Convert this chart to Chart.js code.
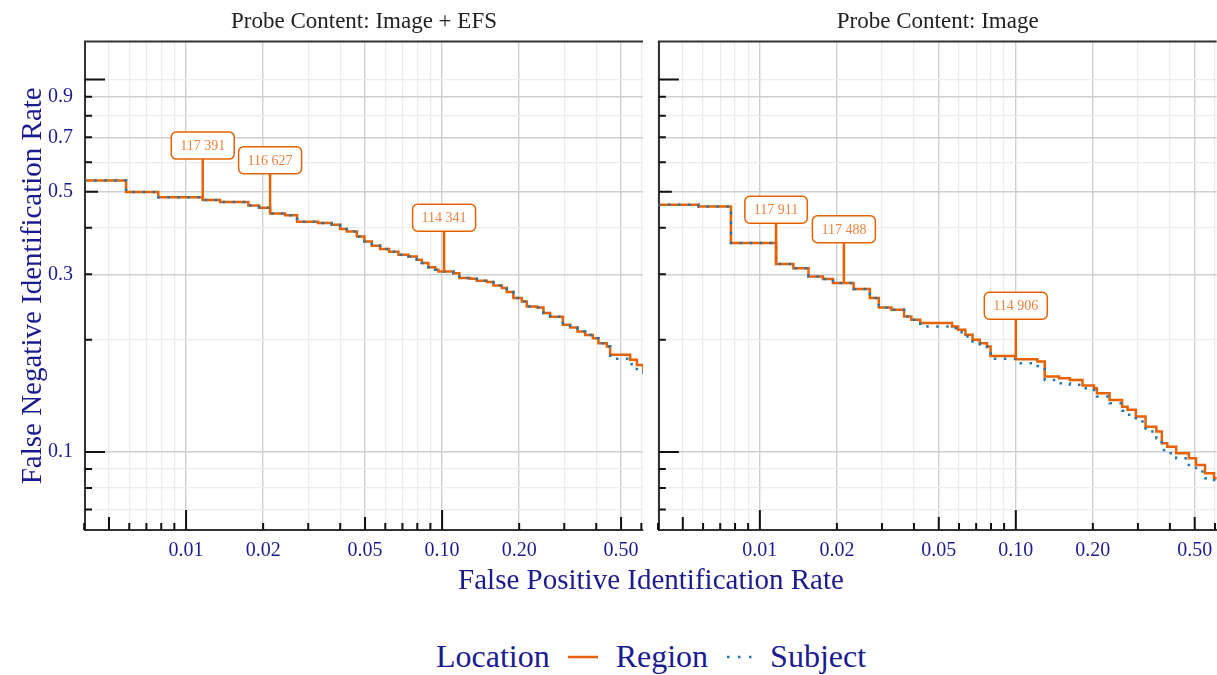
<!DOCTYPE html>
<html>
<head>
<meta charset="utf-8">
<script src="https://cdn.jsdelivr.net/npm/chart.js@4.4.1/dist/chart.umd.min.js"></script>
<style>
  body { margin: 0; width: 1217px; height: 675px; background: #fff; overflow: hidden;
         font-family: "Liberation Serif", serif; }
  .panel { position: absolute; top: 0; height: 570px; }
  #leftPanel { left: 0; width: 651px; }
  #rightPanel { left: 649px; width: 575px; }
  #xTitle { position: absolute; left: 85px; width: 1132px; top: 563px; text-align: center;
            font-size: 29px; color: #1b1b8f; white-space: nowrap; }
  #legend { position: absolute; left: 85px; width: 1132px; top: 638px; display: flex;
            justify-content: center; align-items: center; font-size: 32px; color: #1b1b8f; }
  #legend .key { margin: 0 18px; }
</style>
</head>
<body>
<div class="panel" id="leftPanel"><canvas id="efsChart"></canvas></div>
<div class="panel" id="rightPanel"><canvas id="imgChart"></canvas></div>
<div id="xTitle">False Positive Identification Rate</div>
<div id="legend">
  <span>Location</span>
  <svg class="key" width="30" height="8"><line x1="0" y1="4" x2="30" y2="4" stroke="#e66100" stroke-width="2.5"/></svg>
  <span>Region</span>
  <svg class="key" width="26" height="8"><line x1="1" y1="4" x2="26" y2="4" stroke="#1f78b4" stroke-width="2.5" stroke-dasharray="2.5 8.5"/></svg>
  <span>Subject</span>
</div>
<script>
// Probe Content: Image + EFS
const efsFpir = [0.004, 0.00583, 0.00779, 0.01162, 0.01358, 0.01751, 0.01928, 0.02129, 0.02436, 0.02714,
  0.03279, 0.03708, 0.03997, 0.04245, 0.04644, 0.04973, 0.05314, 0.05726, 0.0621, 0.06751,
  0.07386, 0.07964, 0.08329, 0.08841, 0.09392, 0.09672, 0.1107, 0.1168, 0.1286, 0.1366,
  0.1495, 0.1586, 0.1711, 0.1789, 0.1899, 0.2048, 0.2142, 0.2344, 0.2487, 0.2642,
  0.2962, 0.3162, 0.3378, 0.362, 0.3879, 0.4079, 0.44, 0.4533, 0.5426, 0.5763, 0.6113];
const efsRegion = [0.536, 0.499, 0.483, 0.475, 0.469, 0.459, 0.453, 0.437, 0.432, 0.415,
  0.412, 0.4075, 0.397, 0.391, 0.379, 0.3675, 0.358, 0.3506, 0.3447, 0.3385,
  0.335, 0.328, 0.3215, 0.3135, 0.3084, 0.3052, 0.3021, 0.293, 0.2917, 0.2881,
  0.2858, 0.2799, 0.2754, 0.2687, 0.2589, 0.2535, 0.2458, 0.2443, 0.236, 0.2306,
  0.2195, 0.2158, 0.2105, 0.2062, 0.202, 0.1959, 0.1918, 0.1823, 0.1767, 0.1713, 0.1643];
const efsSubject = [0.536, 0.499, 0.483, 0.475, 0.469, 0.459, 0.453, 0.437, 0.432, 0.415,
  0.412, 0.4075, 0.397, 0.391, 0.379, 0.3675, 0.358, 0.3506, 0.3447, 0.3385,
  0.335, 0.328, 0.3215, 0.3135, 0.3084, 0.3052, 0.3021, 0.293, 0.2917, 0.2881,
  0.2858, 0.2799, 0.2754, 0.2687, 0.2589, 0.2535, 0.2458, 0.2443, 0.236, 0.2306,
  0.2185, 0.2158, 0.2105, 0.2062, 0.202, 0.1959, 0.1918, 0.178, 0.172, 0.167, 0.161];
const efsNoteFpir = [0.01162, 0.02129, 0.1018];
const efsNoteFnir = [0.475, 0.437, 0.3052];
const efsNoteLabelFnir = [0.665, 0.6075, 0.4257];
const efsNoteText = ['117 391', '116 627', '114 341'];

// Probe Content: Image
const imgFpir = [0.004, 0.00576, 0.00771, 0.01157, 0.01352, 0.01549, 0.01764, 0.01931, 0.02324, 0.0269,
  0.02916, 0.03266, 0.03659, 0.03904, 0.04233, 0.05633, 0.05951, 0.0635, 0.06776, 0.0723,
  0.07715, 0.0797, 0.1, 0.1215, 0.1297, 0.1476, 0.1627, 0.1822, 0.2021, 0.2074,
  0.2323, 0.2602, 0.2733, 0.2944, 0.3213, 0.3541, 0.3719, 0.3905, 0.4233, 0.4744,
  0.5059, 0.5486, 0.5951, 0.621];
const imgRegion = [0.4613, 0.4565, 0.364, 0.3195, 0.3116, 0.296, 0.2912, 0.2841, 0.2737, 0.2589,
  0.2443, 0.2408, 0.2311, 0.2263, 0.2218, 0.2172, 0.2128, 0.2063, 0.2, 0.1959,
  0.1918, 0.1811, 0.1775, 0.1749, 0.1594, 0.1578, 0.1561, 0.1508, 0.1483, 0.1438,
  0.1379, 0.1323, 0.1297, 0.1244, 0.1169, 0.1134, 0.1055, 0.1033, 0.0992, 0.0961,
  0.0923, 0.0877, 0.085, 0.0833];
const imgSubject = [0.4613, 0.4565, 0.364, 0.3195, 0.3116, 0.296, 0.2912, 0.2841, 0.2737, 0.2589,
  0.2443, 0.2408, 0.2311, 0.2263, 0.2172, 0.215, 0.2095, 0.2042, 0.1959, 0.1918,
  0.188, 0.1778, 0.1731, 0.1701, 0.1561, 0.153, 0.1515, 0.1483, 0.1438, 0.1408,
  0.1351, 0.1289, 0.1258, 0.1207, 0.1134, 0.1088, 0.1012, 0.0992, 0.0961, 0.0913,
  0.0886, 0.085, 0.0815, 0.08];
const imgNoteFpir = [0.01157, 0.0213, 0.1];
const imgNoteFnir = [0.3195, 0.2841, 0.1775];
const imgNoteLabelFnir = [0.4473, 0.3963, 0.2469];
const imgNoteText = ['117 911', '117 488', '114 906'];

// axes
const xTickMarks = [0.004, 0.005, 0.006, 0.007, 0.008, 0.009, 0.01, 0.02, 0.03, 0.04, 0.05, 0.06, 0.07, 0.08, 0.09,
  0.1, 0.2, 0.3, 0.4, 0.5, 0.6];
const xLabelValues = [0.01, 0.02, 0.05, 0.1, 0.2, 0.5];
const xLabels = ['0.01', '0.02', '0.05', '0.10', '0.20', '0.50'];
const yTickMarks = [0.07, 0.08, 0.09, 0.1, 0.2, 0.3, 0.4, 0.5, 0.6, 0.7, 0.8, 0.9, 1.0];
const yLabelValues = [0.1, 0.3, 0.5, 0.7, 0.9];
const yLabels = ['0.1', '0.3', '0.5', '0.7', '0.9'];

const X_MIN = 0.00403, X_MAX = 0.609, Y_MIN = 0.0617, Y_MAX = 1.265;
const ORANGE = '#e66100', BLUE = '#1f78b4', NAVY = '#1b1b8f';
const FONT = '"Liberation Serif", serif';

Chart.defaults.font.family = FONT;

function same(a, b) { return Math.abs(Math.log10(a / b)) < 1e-6; }
function labelFor(v, values, labels) {
  const i = values.findIndex(m => same(m, v));
  return i < 0 ? '' : labels[i];
}
function tickLen(v) {
  const l = Math.log10(v);
  if (Math.abs(l - Math.round(l)) < 1e-6) return 20;
  const l5 = Math.log10(v / 5);
  if (Math.abs(l5 - Math.round(l5)) < 1e-6) return 13;
  return 7;
}

// inward ticks, top frame line and the boxed annotations
const panelExtras = {
  id: 'panelExtras',
  afterDatasetsDraw(chart, args, opts) {
    const {ctx, scales: {x, y}} = chart;
    ctx.save();
    opts.notes.forEach(n => {
      const px = x.getPixelForValue(n.x);
      const py = y.getPixelForValue(n.y);
      const ly = y.getPixelForValue(n.labelY);
      ctx.font = '14px ' + FONT;
      const w = ctx.measureText(n.text).width + 18, h = 27;
      ctx.strokeStyle = ORANGE;
      ctx.lineWidth = 2.5;
      ctx.beginPath();
      ctx.moveTo(px, ly + h / 2);
      ctx.lineTo(px, py);
      ctx.stroke();
      ctx.beginPath();
      ctx.roundRect(px - w / 2, ly - h / 2, w, h, 5);
      ctx.fillStyle = '#fff';
      ctx.fill();
      ctx.lineWidth = 1.5;
      ctx.stroke();
      ctx.fillStyle = '#ec8240';
      ctx.textAlign = 'center';
      ctx.textBaseline = 'middle';
      ctx.fillText(n.text, px, ly + 1);
    });
    ctx.restore();
  },
  afterDraw(chart) {
    const {ctx, chartArea: a, scales: {x, y}} = chart;
    ctx.save();
    ctx.strokeStyle = '#333';
    ctx.lineWidth = 2;
    ctx.beginPath();
    ctx.moveTo(a.left - 1, a.top);
    ctx.lineTo(a.right, a.top);
    ctx.stroke();
    ctx.strokeStyle = '#111';
    ctx.lineWidth = 2;
    ctx.beginPath();
    xTickMarks.forEach(v => {
      const px = x.getPixelForValue(v);
      if (px < a.left - 2 || px > a.right + 2) return;
      ctx.moveTo(px, a.bottom);
      ctx.lineTo(px, a.bottom - tickLen(v));
    });
    yTickMarks.forEach(v => {
      const py = y.getPixelForValue(v);
      if (py < a.top || py > a.bottom) return;
      ctx.moveTo(a.left, py);
      ctx.lineTo(a.left + tickLen(v), py);
    });
    ctx.stroke();
    ctx.restore();
  }
};

function makePanel(canvasId, title, fpir, region, subject, notes, showY) {
  return new Chart(document.getElementById(canvasId), {
    type: 'line',
    data: {
      datasets: [{
        label: 'Region',
        data: fpir.map((v, i) => ({x: v, y: region[i]})),
        borderColor: ORANGE,
        borderWidth: 2.5,
        pointRadius: 0,
        stepped: true,
        fill: false,
        order: 1
      }, {
        label: 'Subject',
        data: fpir.map((v, i) => ({x: v, y: subject[i]})),
        borderColor: BLUE,
        borderWidth: 2.5,
        borderDash: [2.5, 7.5],
        pointRadius: 0,
        stepped: true,
        fill: false,
        order: 0
      }]
    },
    options: {
      responsive: true,
      maintainAspectRatio: false,
      animation: false,
      devicePixelRatio: 1,
      layout: { padding: { left: 0, right: showY ? 8 : 0, top: 0, bottom: 0 } },
      plugins: {
        legend: { display: false },
        tooltip: { enabled: false },
        title: {
          display: true,
          text: title,
          fullSize: false,
          color: '#222',
          font: { size: 23, weight: 'normal' },
          padding: { top: 8, bottom: 6 }
        },
        panelExtras: { notes: notes }
      },
      scales: {
        x: {
          type: 'logarithmic',
          min: X_MIN,
          max: X_MAX,
          afterBuildTicks: s => { s.ticks = xTickMarks.map(v => ({value: v})); },
          afterFit: s => { s.height = 40; },
          border: { display: true, color: '#333', width: 2 },
          grid: {
            drawTicks: false,
            color: c => xLabelValues.some(m => same(m, c.tick.value)) ? '#cfcfcf' : '#ececec',
            lineWidth: c => xLabelValues.some(m => same(m, c.tick.value)) ? 1.4 : 1.2
          },
          ticks: {
            autoSkip: false,
            maxRotation: 0,
            padding: 9,
            color: NAVY,
            font: { size: 20 },
            callback: v => labelFor(v, xLabelValues, xLabels)
          }
        },
        y: {
          type: 'logarithmic',
          min: Y_MIN,
          max: Y_MAX,
          afterBuildTicks: s => { s.ticks = yTickMarks.map(v => ({value: v})); },
          afterFit: s => { s.width = showY ? 85 : 8; },
          border: { display: true, color: '#333', width: 2 },
          grid: {
            drawTicks: false,
            color: c => yLabelValues.some(m => same(m, c.tick.value)) ? '#cfcfcf' : '#ececec',
            lineWidth: c => yLabelValues.some(m => same(m, c.tick.value)) ? 1.4 : 1.2
          },
          ticks: {
            display: showY,
            autoSkip: false,
            padding: 12,
            color: NAVY,
            font: { size: 20 },
            callback: v => labelFor(v, yLabelValues, yLabels)
          },
          title: {
            display: showY,
            text: 'False Negative Identification Rate',
            color: NAVY,
            font: { size: 29 },
            padding: { top: 16, bottom: 0 }
          }
        }
      }
    },
    plugins: [panelExtras]
  });
}

function notesFrom(xs, ys, labelYs, texts) {
  return xs.map((v, i) => ({x: v, y: ys[i], labelY: labelYs[i], text: texts[i]}));
}

makePanel('efsChart', 'Probe Content: Image + EFS', efsFpir, efsRegion, efsSubject,
  notesFrom(efsNoteFpir, efsNoteFnir, efsNoteLabelFnir, efsNoteText), true);
makePanel('imgChart', 'Probe Content: Image', imgFpir, imgRegion, imgSubject,
  notesFrom(imgNoteFpir, imgNoteFnir, imgNoteLabelFnir, imgNoteText), false);
</script>
</body>
</html>
